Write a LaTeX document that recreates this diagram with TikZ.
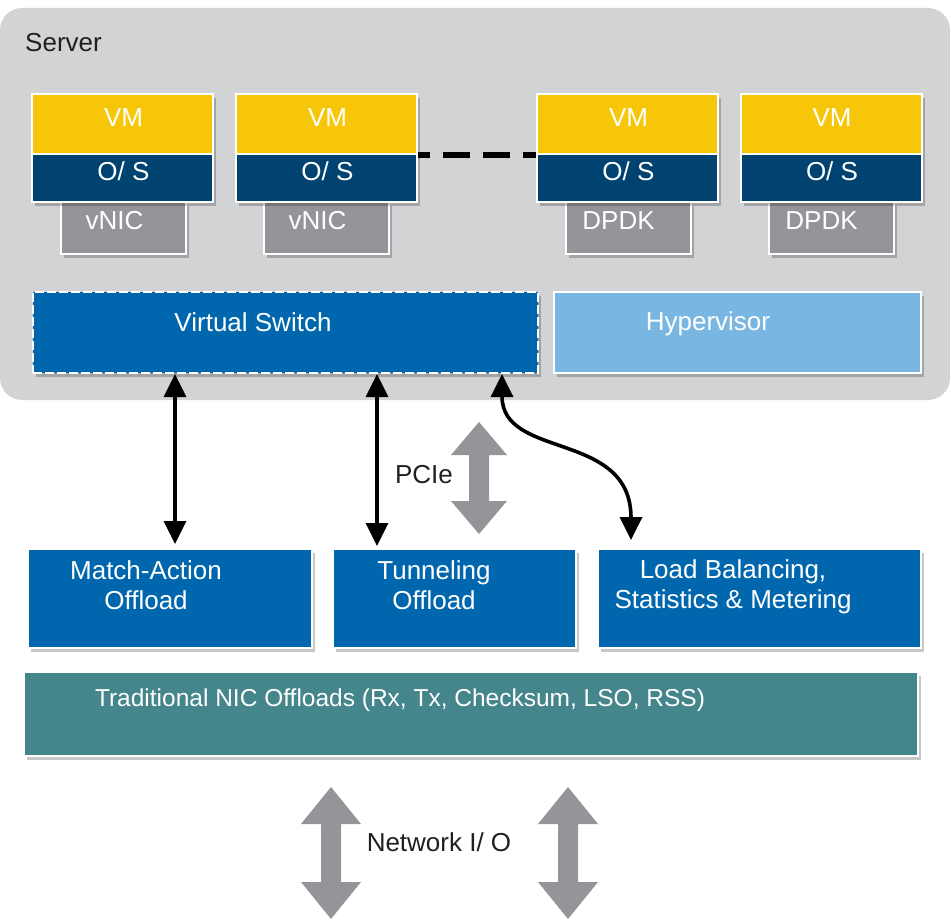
\documentclass[tikz,border=0pt]{standalone}
\usepackage{fontspec}
\setmainfont{Liberation Sans}
\usetikzlibrary{arrows.meta,shadows}
\definecolor{srvgray}{HTML}{D1D3D4}
\definecolor{vmyellow}{HTML}{F7C608}
\definecolor{osblue}{HTML}{004370}
\definecolor{nicgray}{HTML}{939598}
\definecolor{swblue}{HTML}{0066AD}
\definecolor{hvblue}{HTML}{7AB6E2}
\definecolor{nicteal}{HTML}{45858C}
\definecolor{txtdark}{HTML}{231F20}
\begin{document}
\begin{tikzpicture}[x=1pt,y=-1pt,
  font=\fontsize{26}{30}\selectfont,
  shadowed/.style={drop shadow={shadow xshift=3pt,shadow yshift=-4pt,opacity=0.22,fill=black}},
  box/.style={rectangle,draw=white,line width=2pt,inner sep=0pt,shadowed},
  vmbox/.style={box,fill=vmyellow,minimum width=181pt,minimum height=60pt},
  osbox/.style={box,fill=osblue,minimum width=181pt,minimum height=48pt},
  nicbox/.style={box,fill=nicgray,minimum width=125pt,minimum height=52pt},
  wtxt/.style={text=white,inner sep=0pt,align=center},
  dtxt/.style={text=txtdark,inner sep=0pt,align=center},
  conn/.style={line width=3.2pt,draw=black,{Triangle[length=23pt,width=22pt]}-{Triangle[length=23pt,width=22pt]}},
  grayarrow/.style={fill=nicgray}
]
\useasboundingbox (0,0) rectangle (951,920);

% server
\node[rectangle,rounded corners=22pt,fill=srvgray,minimum width=950pt,minimum height=392pt,inner sep=0pt] (server) at (475,204) {};
\node[dtxt] (servertxt) at (63.5,43) {Server};

% VMs
\foreach \i/\cx/\nx/\lab/\tx in {1/122.5/123.5/vNIC/114.5, 2/326.5/326.5/vNIC/317.5, 3/627.5/628/DPDK/618.5, 4/831/831/DPDK/821.5}{
  \node[nicbox] (nic\i) at (\nx,228) {};
  \node[wtxt] (nictxt\i) at (\tx,221) {\lab};
  \node[vmbox] (vm\i) at (\cx,124) {};
  \node[wtxt] (vmtxt\i) at (\cx+1,118) {VM};
  \node[osbox] (os\i) at (\cx,178) {};
  \node[wtxt] (ostxt\i) at (\cx+1,171) {O/ S};
}
% dashed ellipsis line
\draw[line width=6pt,draw=black,dash pattern=on 27pt off 13pt,dash phase=15pt] (vm2.south east) -- (vm3.south west);

% switch + hypervisor
\node[rectangle,fill=swblue,draw=white,line width=2pt,dash pattern=on 9pt off 3pt,minimum width=505pt,minimum height=81pt,inner sep=0pt,shadowed] (vs) at (285.5,332.5) {};
\node[wtxt] (vstxt) at (253,322) {Virtual Switch};
\node[box,fill=hvblue,minimum width=367pt,minimum height=81pt] (hv) at (737.5,332.5) {};
\node[wtxt] (hvtxt) at (708,324) {Hypervisor};

% offload boxes
\node[box,fill=swblue,minimum width=284pt,minimum height=99pt] (ma) at (170,598.5) {};
\node[wtxt] (matxt) at (146,585) {Match-Action\\Offload};
\node[box,fill=swblue,minimum width=243pt,minimum height=99pt] (tu) at (454.5,598.5) {};
\node[wtxt] (tutxt) at (434,585) {Tunneling\\Offload};
\node[box,fill=swblue,minimum width=323pt,minimum height=99pt] (lb) at (759.5,598.5) {};
\node[wtxt] (lbtxt) at (733,587) {Load Balancing,\\Statistics \& Metering};
\node[box,fill=nicteal,minimum width=894pt,minimum height=84pt] (trad) at (471,714) {};
\node[wtxt,font=\fontsize{24.5}{29}\selectfont] (tradtxt) at (400,700) {Traditional NIC Offloads (Rx, Tx, Checksum, LSO, RSS)};

% connectors
\coordinate (a1) at (175,0);
\coordinate (a2) at (377,0);
\draw[conn] (vs.south -| a1) -- ([yshift=4pt]ma.north -| a1);
\draw[conn] (vs.south -| a2) -- ([yshift=2pt]ma.north -| a2);
\coordinate (c1) at (502,374);
\coordinate (c2) at (631,540);
\draw[conn,line width=3.6pt] (c1) .. controls (502,460) and (631,430) .. (c2);

% PCIe arrow
\fill[grayarrow] (479,422) -- (507,455) -- (489,455) -- (489,501) -- (507,501) -- (479,534) -- (451,501) -- (469,501) -- (469,455) -- (451,455) -- cycle;
\node[dtxt] (pcie) at (424,475) {PCIe};

% Network I/O arrows
\foreach \cx in {331,568}{
  \fill[grayarrow] (\cx,787) -- (\cx+30,824) -- (\cx+10,824) -- (\cx+10,882) -- (\cx+30,882) -- (\cx,919) -- (\cx-30,882) -- (\cx-10,882) -- (\cx-10,824) -- (\cx-30,824) -- cycle;
}
\node[dtxt] (netio) at (439,842) {Network I/ O};
\end{tikzpicture}
\end{document}
